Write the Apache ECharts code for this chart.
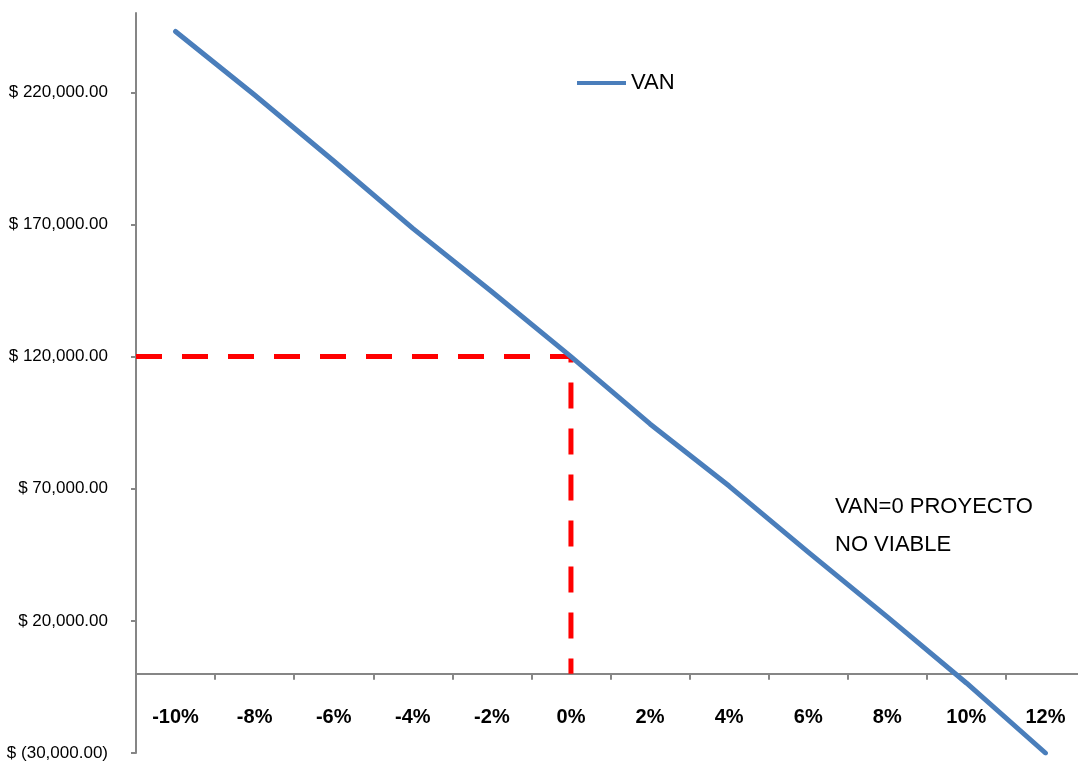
<!DOCTYPE html>
<html>
<head>
<meta charset="utf-8">
<script src="https://cdn.jsdelivr.net/npm/echarts@6/dist/echarts.min.js"></script>
<style>
html,body{margin:0;padding:0;background:#fff;}
#chart{width:1078px;height:765px;}
</style>
</head>
<body>
<div id="chart"></div>
<script>
// Data
var rates = ['-10%','-8%','-6%','-4%','-2%','0%','2%','4%','6%','8%','10%','12%'];
var van = [243000, 219000, 194000, 168500, 144500, 120000, 94500, 71000, 46000, 21500, -3500, -30000];
var yTicks = [-30000, 20000, 70000, 120000, 170000, 220000];
var yMin = -30000, yMax = 250000;
// Guide lines (x in percent, y in $)
var guideH = [[-11, 120000], [0, 120000]];
var guideV = [[0, 120000], [0, 0]];
var noteLines = ['VAN=0 PROYECTO', 'NO VIABLE'];

function money(v) {
  var s = Math.abs(v).toLocaleString('en-US', {minimumFractionDigits: 2, maximumFractionDigits: 2});
  return v < 0 ? '$ (' + s + ')' : '$ ' + s;
}

var gridTop = 13, gridBottom = 12, H = 765;
var plotH = H - gridTop - gridBottom;
// shift category axis up to the zero line
var zeroOffset = -(0 - yMin) / (yMax - yMin) * plotH;

var sans = '"Liberation Sans", Arial, sans-serif';
var chart = echarts.init(document.getElementById('chart'));
chart.setOption({
  animation: false,
  backgroundColor: '#fff',
  grid: {left: 136, right: -7, top: gridTop, bottom: gridBottom, containLabel: false, outerBoundsMode: 'none'},
  legend: {
    left: 572, top: 67,
    itemWidth: 49, itemHeight: 4, itemGap: 10,
    icon: 'rect',
    data: [{name: 'VAN', icon: 'rect'}],
    textStyle: {fontFamily: sans, fontSize: 22, color: '#000'}
  },
  xAxis: [{
    type: 'category',
    data: rates,
    boundaryGap: true,
    position: 'bottom',
    offset: zeroOffset,
    axisLine: {onZero: false, lineStyle: {color: '#868686', width: 2}},
    axisTick: {show: true, inside: false, length: 6, lineStyle: {color: '#868686', width: 2}},
    axisLabel: {margin: 34, fontFamily: sans, fontWeight: 'bold', fontSize: 20, color: '#000'},
    splitLine: {show: false}
  }, {
    type: 'value',
    min: -11, max: 13,
    show: false
  }],
  yAxis: {
    type: 'value',
    min: yMin, max: yMax,
    axisLine: {show: true, onZero: false, lineStyle: {color: '#868686', width: 2}},
    axisTick: {show: true, length: 5, customValues: yTicks, lineStyle: {color: '#868686', width: 2}},
    axisLabel: {margin: 28, customValues: yTicks, formatter: money, fontFamily: sans, fontSize: 17, color: '#000'},
    splitLine: {show: false}
  },
  series: [{
    name: 'VAN',
    type: 'line',
    xAxisIndex: 0,
    data: van,
    showSymbol: false,
    symbol: 'none',
    color: '#4a7ebb',
    lineStyle: {color: '#4a7ebb', width: 5, cap: 'round', join: 'round'},
    z: 3
  }, {
    name: 'guideH',
    type: 'line',
    xAxisIndex: 1,
    data: guideH,
    showSymbol: false, symbol: 'none',
    lineStyle: {color: '#ff0000', width: 5, type: [26, 20]},
    z: 2
  }, {
    name: 'guideV',
    type: 'line',
    xAxisIndex: 1,
    data: guideV,
    showSymbol: false, symbol: 'none',
    lineStyle: {color: '#ff0000', width: 5, type: [26, 20], dashOffset: 20},
    z: 2
  }],
  graphic: [{
    type: 'text',
    left: 835, top: 488,
    style: {
      text: noteLines.join('\n'),
      font: '22px ' + sans,
      lineHeight: 38,
      fill: '#000'
    }
  }]
});
</script>
</body>
</html>
